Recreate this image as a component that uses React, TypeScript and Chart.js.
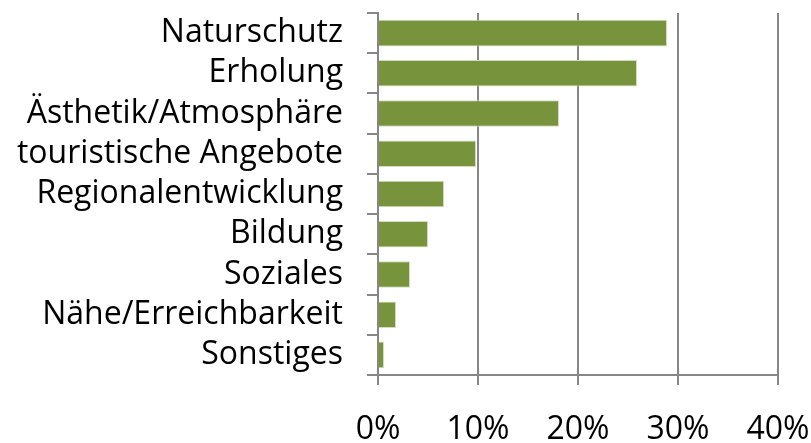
import React, { useEffect, useRef } from "react";
import { Chart, registerables } from "chart.js";

Chart.register(...registerables);

const categories = [
  "Naturschutz",
  "Erholung",
  "Ästhetik/Atmosphäre",
  "touristische Angebote",
  "Regionalentwicklung",
  "Bildung",
  "Soziales",
  "Nähe/Erreichbarkeit",
  "Sonstiges",
];
const values = [28.9, 25.9, 18.1, 9.8, 6.6, 5.0, 3.2, 1.8, 0.6];
const xTicks = [0, 10, 20, 30, 40];

export default function App() {
  const ref = useRef<HTMLCanvasElement>(null);
  useEffect(() => {
    if (!ref.current) return;
    const chart = new Chart(ref.current, {
      type: "bar",
      data: {
        labels: categories,
        datasets: [
          {
            data: values,
            backgroundColor: "#77933C",
            borderColor: "#d3dcc0",
            borderWidth: 1,
            borderSkipped: "start",
            categoryPercentage: 1,
            barPercentage: 0.66,
          },
        ],
      },
      options: {
        indexAxis: "y",
        animation: false,
        responsive: false,
        maintainAspectRatio: false,
        layout: { padding: { top: 13, right: 33, left: 0, bottom: 0 } },
        plugins: { legend: { display: false }, tooltip: { enabled: false } },
        scales: {
          x: {
            min: 0,
            max: 40,
            afterBuildTicks: (scale: any) => {
              scale.ticks = xTicks.map((v) => ({ value: v }));
            },
            afterFit: (scale: any) => {
              scale.height = 68;
              scale.paddingLeft = 0;
              scale.paddingRight = 0;
            },
            grid: {
              color: "#878787",
              lineWidth: 2,
              tickLength: 10,
              drawTicks: true,
            },
            border: { color: "#878787", width: 2 },
            ticks: {
              color: "#000",
              padding: 26,
              maxRotation: 0,
              autoSkip: false,
              font: { family: "Open Sans", size: 32 },
              callback: (v: any) => v + "%",
            },
          },
          y: {
            afterFit: (scale: any) => {
              scale.width = 378;
              scale.paddingTop = 0;
              scale.paddingBottom = 0;
            },
            grid: {
              offset: true,
              drawOnChartArea: false,
              drawTicks: true,
              tickLength: 11,
              color: "#878787",
              lineWidth: 2,
            },
            border: { color: "#878787", width: 2 },
            ticks: {
              color: "#000",
              padding: 24,
              autoSkip: false,
              font: { family: "Open Sans", size: 32 },
            },
          },
        },
      },
    });
    return () => chart.destroy();
  }, []);
  return (
    <div style={{ position: "fixed", left: 0, top: 0, width: 811, height: 443, background: "#fff" }}>
      <canvas ref={ref} width={811} height={443} style={{ width: 811, height: 443 }} />
    </div>
  );
}
